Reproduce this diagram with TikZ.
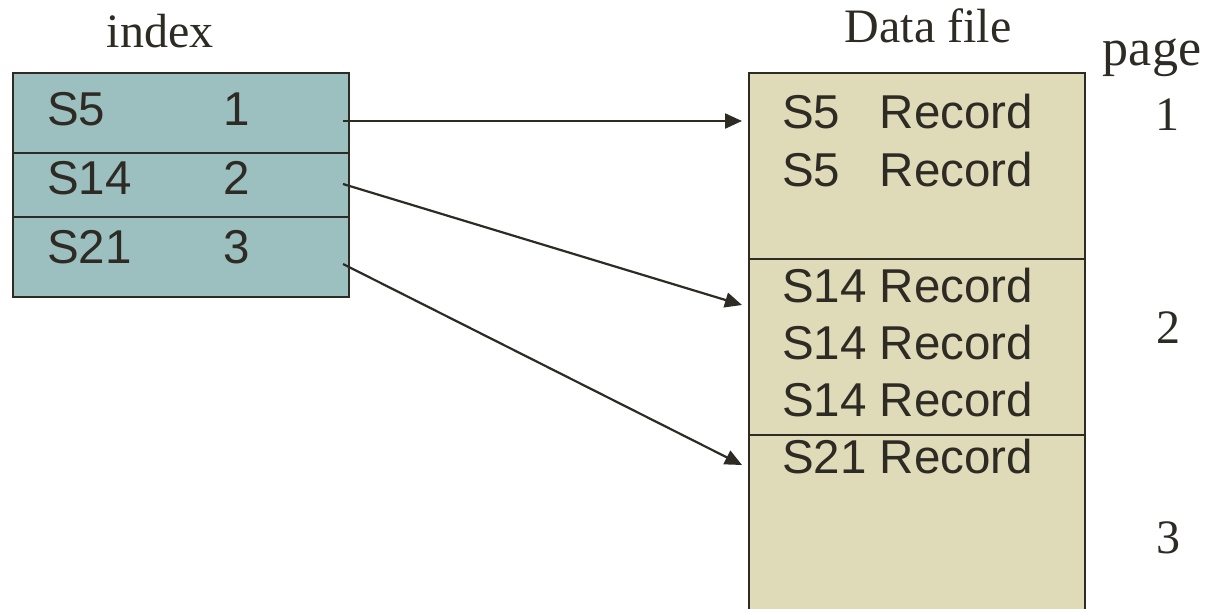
\documentclass[tikz,border=0pt]{standalone}
\usepackage{fontspec}
\setmainfont{Liberation Serif}
\setsansfont{Liberation Sans}
\usetikzlibrary{arrows.meta}
\definecolor{idxfill}{HTML}{9CBFBF}
\definecolor{datafill}{HTML}{DFDAB8}
\definecolor{ink}{HTML}{2E2B25}
\tikzset{
  cell/.style={draw=ink, line width=2pt, inner sep=0pt, anchor=north west},
  idxcell/.style={cell, fill=idxfill, minimum width=336pt},
  datacell/.style={cell, fill=datafill, minimum width=336pt},
  sanstxt/.style={inner sep=0pt, text=ink, font=\sffamily\fontsize{47.5}{47.5}\selectfont},
  seriftxt/.style={inner sep=0pt, text=ink, font=\rmfamily\fontsize{48}{48}\selectfont},
  link/.style={draw=ink, line width=2.2pt, -{Triangle[length=17pt,width=15pt]}}
}
\begin{document}
\begin{tikzpicture}[x=1pt,y=-1pt]
\useasboundingbox (0,0) rectangle (1210,608);
\clip (0,0) rectangle (1210,608);
% index table
\node[idxcell, minimum height=80pt] (r1) at (12,72) {};
\node[idxcell, minimum height=64pt] (r2) at (12,152) {};
\node[idxcell, minimum height=80pt] (r3) at (12,216) {};
\node[sanstxt, anchor=base west] (k1) at (47,125) {S5};
\node[sanstxt, anchor=base west] (k2) at (47,194) {S14};
\node[sanstxt, anchor=base west] (k3) at (47,263) {S21};
\node[sanstxt, anchor=base] (p1) at (237,125) {1};
\node[sanstxt, anchor=base] (p2) at (237,194) {2};
\node[sanstxt, anchor=base] (p3) at (237,263) {3};
% data file
\node[datacell, minimum height=186pt] (d1) at (748,72) {};
\node[datacell, minimum height=176pt] (d2) at (748,258) {};
\node[datacell, minimum height=200pt] (d3) at (748,434) {};
\node[sanstxt, anchor=base west] (e1) at (782,128) {S5\phantom{4} Record};
\node[sanstxt, anchor=base west] (e2) at (782,186) {S5\phantom{4} Record};
\node[sanstxt, anchor=base west] (e3) at (782,302) {S14 Record};
\node[sanstxt, anchor=base west] (e4) at (782,359) {S14 Record};
\node[sanstxt, anchor=base west] (e5) at (782,416) {S14 Record};
\node[sanstxt, anchor=base west] (e6) at (782,473) {S21 Record};
% labels
\node[seriftxt, anchor=base] (lidx) at (160,47) {index};
\node[seriftxt, anchor=base] (ldata) at (928,42) {Data file};
\node[seriftxt, anchor=base, font=\rmfamily\fontsize{52}{52}\selectfont] (lpage) at (1152,65) {page};
\node[seriftxt, anchor=base] (n1) at (1167,130) {1};
\node[seriftxt, anchor=base] (n2) at (1168,343) {2};
\node[seriftxt, anchor=base] (n3) at (1168,553) {3};
% connectors
\coordinate (s1) at (343,121);
\coordinate (s2) at (343,184);
\coordinate (s3) at (343,264);
\coordinate (t1) at (742,121);
\coordinate (t2) at (742,305);
\coordinate (t3) at (742,465);
\draw[link] (s1) -- (t1);
\draw[link] (s2) -- (t2);
\draw[link] (s3) -- (t3);
\end{tikzpicture}
\end{document}
